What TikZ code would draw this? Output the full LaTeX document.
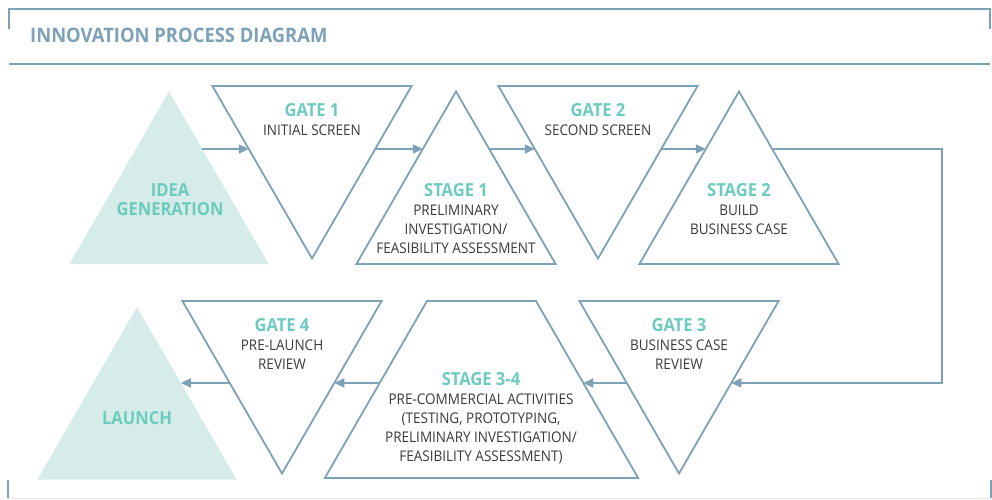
\documentclass[tikz,border=0pt]{standalone}
\usepackage{fontspec}
\setmainfont{Open Sans}[FakeStretch=0.92]
\usetikzlibrary{shapes.geometric,arrows.meta,calc}
\definecolor{steel}{RGB}{125,162,184}
\definecolor{mint}{RGB}{108,203,190}
\definecolor{mintfill}{RGB}{213,236,232}
\definecolor{ink}{RGB}{58,58,58}
\definecolor{rulegrey}{RGB}{228,231,233}
\begin{document}
\begin{tikzpicture}[x=1pt, y=-1pt, line join=miter,
  up node/.style={regular polygon, regular polygon sides=3, minimum size=230pt, inner sep=0pt, outer sep=0pt},
  down node/.style={up node, shape border rotate=180},
  gate node/.style={down node, draw=steel, line width=1.8pt},
  stage node/.style={up node, draw=steel, line width=1.8pt},
  end node/.style={up node, fill=mintfill},
  flow/.style={draw=steel, line width=1.8pt, -{Triangle[length=10pt,width=9pt]}},
  head/.style={text=mint, font=\fontsize{18}{19}\selectfont\bfseries},
  note/.style={anchor=north, align=center, inner sep=0pt, text=ink, font=\fontsize{14.7}{19}\selectfont}]%
\useasboundingbox (0,0) rectangle (992,500);
% frame and heading
\draw[steel, line width=1.6pt] (9,29) -- (9,9) -- (990,9) -- (990,29);
\draw[steel, line width=1.6pt] (9,64) -- (990,64);
\draw[rulegrey, line width=1pt] (8,498) -- (991,498);
\draw[steel, line width=1.6pt] (8,480) -- (8,498);
\draw[steel, line width=1.6pt] (991,480) -- (991,498);
\node[anchor=base west, inner sep=0pt, text=steel, font=\fontsize{20}{24}\selectfont\bfseries] (title) at (30,43) {INNOVATION PROCESS DIAGRAM};
% shapes
\node[end node] (idea) at (169,206.5) {};
\node[gate node] (g1) at (312,143.5) {};
\node[stage node] (s1) at (456,206.5) {};
\node[gate node] (g2) at (598,143.5) {};
\node[stage node] (s2) at (739,206.5) {};
\node[end node] (launch) at (137,422) {};
\node[gate node] (g4) at (282,358.5) {};
\node[trapezium, trapezium angle=60, inner xsep=54.5pt, inner ysep=88.5pt, outer sep=0pt, draw=steel, line width=1.8pt] (s34) at (481.5,389.5) {};
\node[gate node] (g3) at (679,358.5) {};
\coordinate (turn) at (942,383);
% labels
\begin{scope}[every node/.style={note}]
\node[head] (ideat) at (170,183) {IDEA\\GENERATION};
\node (g1t) at (312,103) {{\color{mint}\fontsize{18}{19}\selectfont\bfseries GATE 1}\\INITIAL SCREEN};
\node (s1t) at (456,183) {{\color{mint}\fontsize{18}{19}\selectfont\bfseries STAGE 1}\\PRELIMINARY\\INVESTIGATION/\\FEASIBILITY ASSESSMENT};
\node (g2t) at (598,103) {{\color{mint}\fontsize{18}{19}\selectfont\bfseries GATE 2}\\SECOND SCREEN};
\node (s2t) at (739,183) {{\color{mint}\fontsize{18}{19}\selectfont\bfseries STAGE 2}\\BUILD\\BUSINESS CASE};
\node[head] (launcht) at (137,411) {LAUNCH};
\node (g4t) at (282,318) {{\color{mint}\fontsize{18}{19}\selectfont\bfseries GATE 4}\\PRE-LAUNCH\\REVIEW};
\node (s34t) at (481,372) {{\color{mint}\fontsize{18}{19}\selectfont\bfseries STAGE 3-4}\\PRE-COMMERCIAL ACTIVITIES\\(TESTING, PROTOTYPING,\\PRELIMINARY INVESTIGATION/\\FEASIBILITY ASSESSMENT)};
\node (g3t) at (679,318) {{\color{mint}\fontsize{18}{19}\selectfont\bfseries GATE 3}\\BUSINESS CASE\\REVIEW};
\end{scope}
% arrows
\draw[flow] ($(idea.corner 1)!1/3!(idea.corner 3)$) -- ($(g1.corner 3)!.365!(g1.corner 1)$);
\draw[flow] ($(g1.corner 2)!.365!(g1.corner 1)$) -- ($(s1.corner 1)!1/3!(s1.corner 2)$);
\draw[flow] ($(s1.corner 1)!1/3!(s1.corner 3)$) -- ($(g2.corner 3)!.365!(g2.corner 1)$);
\draw[flow] ($(g2.corner 2)!.365!(g2.corner 1)$) -- ($(s2.corner 1)!1/3!(s2.corner 2)$);
\draw[flow] ($(s2.corner 1)!1/3!(s2.corner 3)$) -| (turn) -- ($(g3.corner 2)!.475!(g3.corner 1)$);
\draw[flow] ($(g3.corner 3)!.475!(g3.corner 1)$) -- ($(s34.top right corner)!.463!(s34.bottom right corner)$);
\draw[flow] ($(s34.top left corner)!.463!(s34.bottom left corner)$) -- ($(g4.corner 2)!.475!(g4.corner 1)$);
\draw[flow] ($(g4.corner 3)!.475!(g4.corner 1)$) -- ($(launch.corner 1)!.44!(launch.corner 3)$);
\end{tikzpicture}
\end{document}
